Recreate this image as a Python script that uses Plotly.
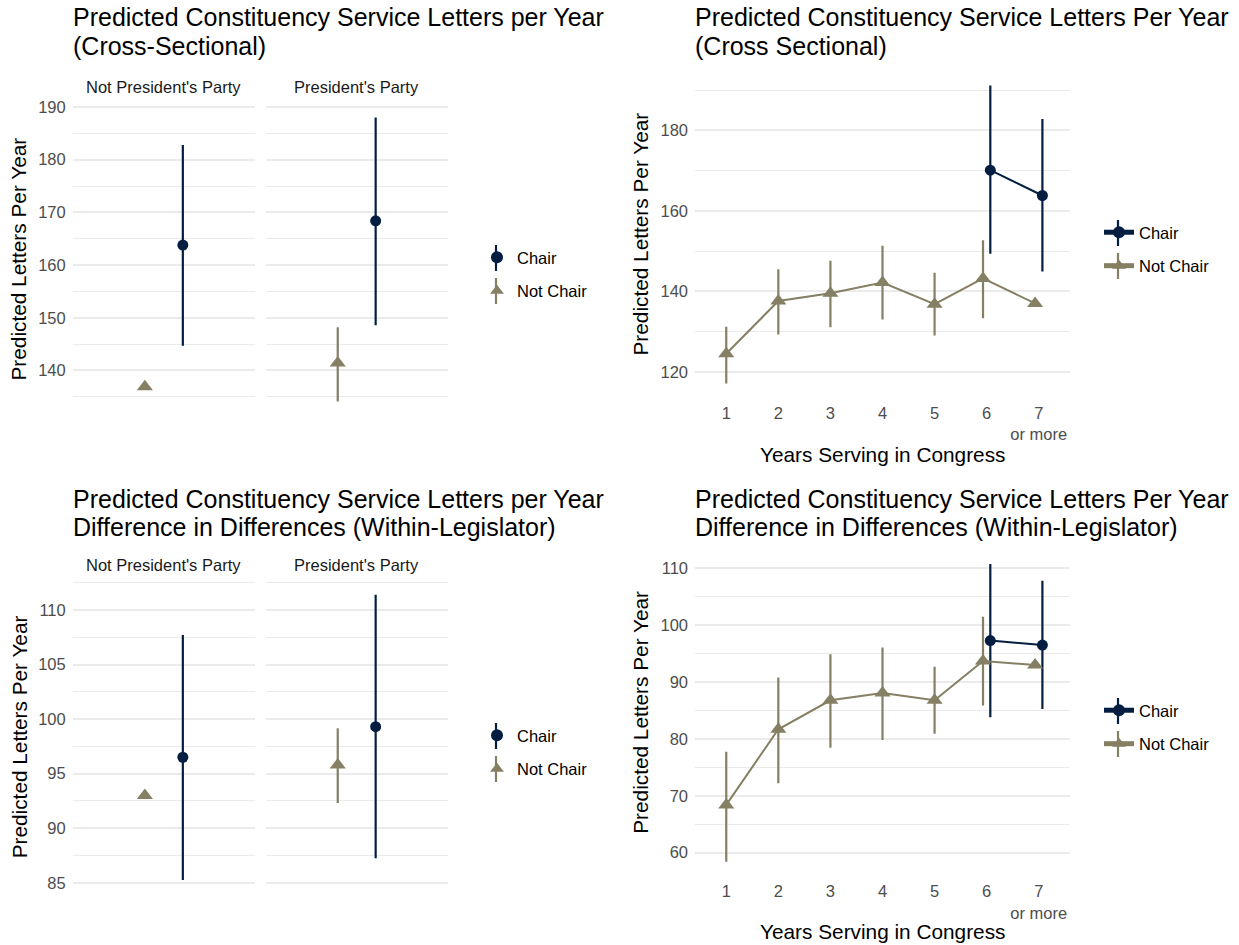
import plotly.graph_objects as go

W, H = 1239, 945
FONT = "Liberation Sans, Arial, sans-serif"
CHAIR_COLOR = "#041E42"
NOTCHAIR_COLOR = "#857F63"
GRID = "#EBEBEB"

# ---------------- data ----------------
parties = ["Not President's Party", "President's Party"]

# Cross-sectional (top-left)
cs_chair = [163.8, 168.4]
cs_chair_lo = [144.7, 148.6]
cs_chair_hi = [182.8, 188.0]
cs_notchair = [136.9, 141.4]
cs_notchair_lo = [136.9, 134.1]
cs_notchair_hi = [136.9, 148.2]

# Within-legislator (bottom-left)
wl_chair = [96.5, 99.3]
wl_chair_lo = [85.25, 87.25]
wl_chair_hi = [107.7, 111.4]
wl_notchair = [93.0, 95.8]
wl_notchair_lo = [93.0, 92.3]
wl_notchair_hi = [93.0, 99.15]

# Years serving (right panels)
years = [1, 2, 3, 4, 5, 6, 7]
year_labels = ["1", "2", "3", "4", "5", "6", "7<br>or more"]
chair_years = [6, 7]

# Cross-sectional by years (top-right)
cy_notchair = [124.5, 137.6, 139.5, 142.2, 136.8, 143.2, 137.0]
cy_notchair_lo = [117.1, 129.3, 131.1, 133.0, 129.0, 133.3, 137.0]
cy_notchair_hi = [131.2, 145.5, 147.6, 151.3, 144.6, 152.7, 137.0]
cy_chair = [170.1, 163.8]
cy_chair_lo = [149.3, 144.9]
cy_chair_hi = [191.1, 182.8]

# Within-legislator by years (bottom-right)
wy_notchair = [68.4, 81.7, 86.8, 88.1, 86.8, 93.7, 93.0]
wy_notchair_lo = [58.4, 72.2, 78.45, 79.8, 80.9, 85.9, 93.0]
wy_notchair_hi = [77.75, 90.8, 94.9, 96.1, 92.7, 101.5, 93.0]
wy_chair = [97.3, 96.5]
wy_chair_lo = [83.8, 85.25]
wy_chair_hi = [110.75, 107.8]

# ---------------- helpers ----------------
def fx(p):
    return p / W

def fy(p):
    return 1 - p / H

def err(vals, lo, hi):
    return dict(type="data", symmetric=False,
                array=[h - v for v, h in zip(vals, hi)],
                arrayminus=[v - l for v, l in zip(vals, lo)],
                width=0, thickness=2.2)

fig = go.Figure()

LEFT_DODGE = 0.125
RIGHT_DODGE = 0.07

def left_panel(xa_list, ya, chair, clo, chi, nc, nlo, nhi, legend):
    for i, xa in enumerate(xa_list):
        fig.add_trace(go.Scatter(
            x=[1 + LEFT_DODGE], y=[chair[i]], mode="markers",
            marker=dict(symbol="circle", size=11, color=CHAIR_COLOR),
            error_y={**err([chair[i]], [clo[i]], [chi[i]]), "color": CHAIR_COLOR},
            name="Chair", legend=legend, legendgroup=legend + "c",
            showlegend=(i == 0), xaxis=xa, yaxis=ya))
    for i, xa in enumerate(xa_list):
        fig.add_trace(go.Scatter(
            x=[1 - LEFT_DODGE], y=[nc[i]], mode="markers",
            marker=dict(symbol="triangle-up", size=14, color=NOTCHAIR_COLOR),
            error_y={**err([nc[i]], [nlo[i]], [nhi[i]]), "color": NOTCHAIR_COLOR},
            name="Not Chair", legend=legend, legendgroup=legend + "n",
            showlegend=(i == 0), xaxis=xa, yaxis=ya))

def right_panel(xa, ya, nc, nlo, nhi, ch, clo, chi, legend):
    cx = [y + RIGHT_DODGE for y in chair_years]
    nx = [y - RIGHT_DODGE if y in chair_years else y for y in years]
    fig.add_trace(go.Scatter(
        x=cx, y=ch, mode="lines+markers",
        line=dict(color=CHAIR_COLOR, width=2),
        marker=dict(symbol="circle", size=11, color=CHAIR_COLOR),
        error_y={**err(ch, clo, chi), "color": CHAIR_COLOR},
        name="Chair", legend=legend, legendgroup=legend + "c",
        xaxis=xa, yaxis=ya))
    fig.add_trace(go.Scatter(
        x=nx, y=nc, mode="lines+markers",
        line=dict(color=NOTCHAIR_COLOR, width=2),
        marker=dict(symbol="triangle-up", size=14, color=NOTCHAIR_COLOR),
        error_y={**err(nc, nlo, nhi), "color": NOTCHAIR_COLOR},
        name="Not Chair", legend=legend, legendgroup=legend + "n",
        xaxis=xa, yaxis=ya))

left_panel(["x", "x2"], "y", cs_chair, cs_chair_lo, cs_chair_hi,
           cs_notchair, cs_notchair_lo, cs_notchair_hi, "legend")
right_panel("x3", "y3", cy_notchair, cy_notchair_lo, cy_notchair_hi,
            cy_chair, cy_chair_lo, cy_chair_hi, "legend2")
left_panel(["x4", "x5"], "y4", wl_chair, wl_chair_lo, wl_chair_hi,
           wl_notchair, wl_notchair_lo, wl_notchair_hi, "legend3")
right_panel("x6", "y6", wy_notchair, wy_notchair_lo, wy_notchair_hi,
            wy_chair, wy_chair_lo, wy_chair_hi, "legend4")

tickfont = dict(family=FONT, size=16.5, color="#4D4D4D")

def yax(domain, rng, dtick, minor, anchor, labels=True):
    return dict(domain=[fy(domain[1]), fy(domain[0])], range=rng, dtick=dtick, tick0=0,
                showgrid=True, gridcolor=GRID, gridwidth=2, zeroline=False,
                showline=False, ticks="", tickfont=tickfont, showticklabels=labels,
                ticklabelstandoff=6, anchor=anchor, automargin=False,
                minor=dict(dtick=minor, tick0=0, showgrid=True, gridcolor=GRID, gridwidth=1.1))

def xax_left(domain, anchor):
    return dict(domain=[fx(domain[0]), fx(domain[1])], range=[0.4, 1.6],
                showgrid=False, zeroline=False, showline=False, showticklabels=False,
                ticks="", anchor=anchor, automargin=False)

def xax_right(domain, anchor):
    return dict(domain=[fx(domain[0]), fx(domain[1])], range=[0.4, 7.6],
                tickmode="array", tickvals=years, ticktext=year_labels,
                showgrid=False, zeroline=False, showline=False, ticks="",
                tickfont=tickfont, ticklabelstandoff=3, anchor=anchor, automargin=False)

LNP = (72.7, 255.0)
LPP = (265.7, 447.7)
RX = (695.0, 1070.0)
TL_Y = (103.3, 415.8)
TR_Y = (70.7, 398.4)
BL_Y = (580.5, 894.2)
BR_Y = (549.0, 876.6)

fig.update_layout(
    template="none",
    xaxis=xax_left(LNP, "y"),
    xaxis2=xax_left(LPP, "y2"),
    yaxis=yax(TL_Y, [131.4, 190.7], 10, 5, "x"),
    yaxis2=yax(TL_Y, [131.4, 190.7], 10, 5, "x2", labels=False),
    xaxis3=xax_right(RX, "y3"),
    yaxis3=yax(TR_Y, [113.4, 194.8], 20, 10, "x3"),
    xaxis4=xax_left(LNP, "y4"),
    xaxis5=xax_left(LPP, "y5"),
    yaxis4=yax(BL_Y, [83.95, 112.7], 5, 2.5, "x4"),
    yaxis5=yax(BL_Y, [83.95, 112.7], 5, 2.5, "x5", labels=False),
    xaxis6=xax_right(RX, "y6"),
    yaxis6=yax(BR_Y, [55.8, 113.4], 10, 5, "x6"),
)

# ---------------- legends ----------------
legfont = dict(family=FONT, size=16.5, color="#000000")
LEG_GAP = 9

def leg(xp, yc):
    return dict(x=fx(xp), y=fy(yc), xanchor="left", yanchor="middle",
                font=legfont, bgcolor="rgba(0,0,0,0)", borderwidth=0,
                tracegroupgap=LEG_GAP, itemsizing="constant")

LEFT_LEG_X = 477
RIGHT_LEG_X = 1099
leg_items = {  # legend name: (x of legend, centre y, item y positions)
    "legend": (LEFT_LEG_X, 274, (258, 291)),
    "legend2": (RIGHT_LEG_X, 249, (233, 266)),
    "legend3": (LEFT_LEG_X, 752, (736, 769)),
    "legend4": (RIGHT_LEG_X, 727, (711, 744)),
}
fig.update_layout(**{k: leg(v[0], v[1]) for k, v in leg_items.items()})

# vertical "range" strokes behind legend keys (pointrange glyphs)
shapes = []
for name, (lx, _, ys) in leg_items.items():
    sx = lx + 19
    for yy, col in zip(ys, [CHAIR_COLOR, NOTCHAIR_COLOR]):
        shapes.append(dict(type="line", xref="paper", yref="paper",
                           x0=fx(sx), x1=fx(sx), y0=fy(yy - 13), y1=fy(yy + 13),
                           line=dict(color=col, width=2.2), layer="above"))

# ---------------- text ----------------
ann = []
def text(s, xp, yp, size, color="#000000", xanchor="left", angle=0):
    ann.append(dict(text=s, x=fx(xp), y=fy(yp), xref="paper", yref="paper",
                    xanchor=xanchor, yanchor="middle", showarrow=False,
                    textangle=angle, font=dict(family=FONT, size=size, color=color)))

text("Predicted Constituency Service Letters per Year", 71, 17.5, 25)
text("(Cross-Sectional)", 71, 45.5, 25)
text("Predicted Constituency Service Letters Per Year", 693, 17.5, 25)
text("(Cross Sectional)", 693, 45.5, 25)
text("Predicted Constituency Service Letters per Year", 71, 499, 25)
text("Difference in Differences (Within-Legislator)", 71, 526.5, 25)
text("Predicted Constituency Service Letters Per Year", 693, 499, 25)
text("Difference in Differences (Within-Legislator)", 693, 526.5, 25)

for (a, b), p in zip([LNP, LPP], parties):
    text(p, (a + b) / 2, 87, 16.5, "#1A1A1A", "center")
    text(p, (a + b) / 2, 565, 16.5, "#1A1A1A", "center")

yt = "Predicted Letters Per Year"
text(yt, 19, sum(TL_Y) / 2, 20.8, xanchor="center", angle=-90)
text(yt, 641, sum(TR_Y) / 2, 20.8, xanchor="center", angle=-90)
text(yt, 19, sum(BL_Y) / 2, 20.8, xanchor="center", angle=-90)
text(yt, 641, sum(BR_Y) / 2, 20.8, xanchor="center", angle=-90)
xt = "Years Serving in Congress"
text(xt, sum(RX) / 2, 454, 20.8, xanchor="center")
text(xt, sum(RX) / 2, 931, 20.8, xanchor="center")

fig.update_layout(
    annotations=ann,
    shapes=shapes,
    width=W, height=H,
    autosize=False,
    margin=dict(l=0, r=0, t=0, b=0, pad=0, autoexpand=False),
    paper_bgcolor="white", plot_bgcolor="white",
    font=dict(family=FONT),
    hovermode=False,
)

fig.write_html("out.html", config={"displayModeBar": False})

# remove the default page margin so the figure sits at the window's top-left corner
with open("out.html", encoding="utf-8") as f:
    html = f.read()
html = html.replace("<body>", '<body style="margin:0;padding:0;overflow:hidden">', 1)
with open("out.html", "w", encoding="utf-8") as f:
    f.write(html)
